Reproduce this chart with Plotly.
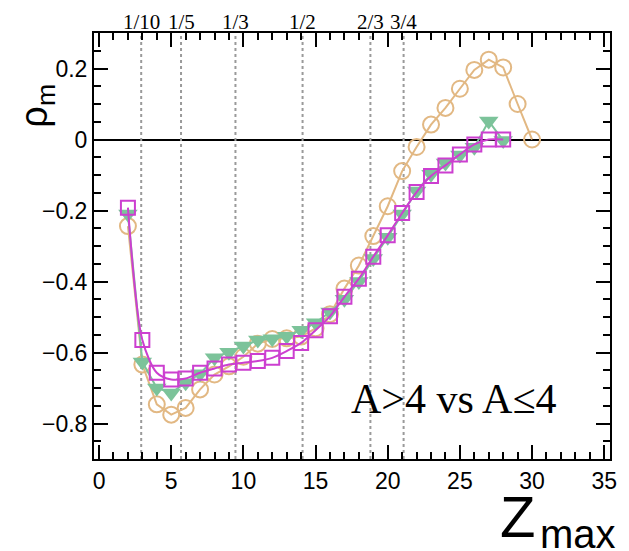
import plotly.graph_objects as go

# ---- data ----
z_circ = list(range(2, 31))
rho_circ = [-0.244, -0.634, -0.746, -0.775, -0.756, -0.704, -0.662, -0.639, -0.612, -0.575,
            -0.562, -0.560, -0.555, -0.532, -0.492, -0.420, -0.355, -0.272, -0.188, -0.089,
            -0.021, 0.042, 0.089, 0.143, 0.196, 0.225, 0.203, 0.100, 0.0]

z_tri = list(range(2, 29))
rho_tri = [-0.210, -0.627, -0.700, -0.714, -0.685, -0.660, -0.615, -0.599, -0.582, -0.565,
           -0.561, -0.554, -0.537, -0.516, -0.486, -0.450, -0.400, -0.335, -0.275, -0.210,
           -0.145, -0.098, -0.066, -0.044, -0.022, 0.052, -0.003]

z_sq = list(range(2, 29))
rho_sq = [-0.192, -0.565, -0.657, -0.676, -0.673, -0.657, -0.645, -0.634, -0.629, -0.624,
          -0.615, -0.596, -0.573, -0.537, -0.498, -0.443, -0.392, -0.330, -0.270, -0.207,
          -0.148, -0.103, -0.073, -0.042, -0.014, 0.0, 0.0]

frac_labels = ["1/10", "1/5", "1/3", "1/2", "2/3", "3/4"]
frac_pos = [2.92, 5.68, 9.45, 14.1, 18.8, 21.1]

x_range = [-0.35, 35.4]
y_range = [-0.9, 0.3]

C_TAN = "#E2B883"
C_GREEN = "#7CC39A"
C_MAG = "#CC3FD0"

fig = go.Figure()

# dotted reference lines
for p in frac_pos:
    fig.add_trace(go.Scatter(x=[p, p], y=y_range, mode="lines",
                             line=dict(color="#9a9a9a", width=2, dash="dot"),
                             showlegend=False, hoverinfo="skip"))

fig.add_trace(go.Scatter(x=z_circ, y=rho_circ, mode="lines+markers",
                         line=dict(color=C_TAN, width=2),
                         marker=dict(symbol="circle-open", size=16, color=C_TAN,
                                     line=dict(width=2)),
                         showlegend=False))
fig.add_trace(go.Scatter(x=z_tri, y=rho_tri, mode="lines+markers",
                         line=dict(color=C_GREEN, width=2),
                         marker=dict(symbol="triangle-down", size=17, color=C_GREEN),
                         showlegend=False))
fig.add_trace(go.Scatter(x=z_sq, y=rho_sq, mode="lines+markers",
                         line=dict(color=C_MAG, width=2, shape="spline", smoothing=0.8),
                         marker=dict(symbol="square-open", size=14, color=C_MAG,
                                     line=dict(width=2)),
                         showlegend=False))

annotations = []
for lab, p in zip(frac_labels, frac_pos):
    annotations.append(dict(x=p, xref="x", y=1.026, yref="paper", text=lab,
                            showarrow=False, xanchor="center", yanchor="middle",
                            font=dict(family="Liberation Serif", size=21, color="black")))

annotations.append(dict(x=0.495, xref="paper", y=0.14, yref="paper",
                        text="A>4 vs A≤4", showarrow=False,
                        xanchor="left", yanchor="middle",
                        font=dict(family="Liberation Serif", size=42, color="black")))

annotations.append(dict(x=-0.11, xref="paper", y=0.83, yref="paper",
                        text="ρ<sub>m</sub>", showarrow=False, textangle=-90,
                        xanchor="center", yanchor="middle",
                        font=dict(family="Liberation Sans", size=38, color="black")))

# x-axis title: Z with subscript "max"
annotations.append(dict(x=0.783, xref="paper", y=-0.134, yref="paper",
                        text="Z", showarrow=False,
                        xanchor="left", yanchor="middle",
                        font=dict(family="Liberation Sans", size=58, color="black")))
annotations.append(dict(x=0.938, xref="paper", y=-0.176, yref="paper",
                        text="max", showarrow=False,
                        xanchor="center", yanchor="middle",
                        font=dict(family="Liberation Sans", size=40, color="black")))

axis_common = dict(showline=True, linecolor="black", linewidth=2, mirror="allticks",
                   ticks="inside", tickcolor="black", tickwidth=2, ticklen=14,
                   showgrid=False,
                   tickfont=dict(family="Liberation Sans", size=23, color="black"))

fig.update_layout(
    width=629, height=551,
    margin=dict(l=94, r=15, t=33, b=92),
    paper_bgcolor="white", plot_bgcolor="white",
    xaxis=dict(range=x_range, dtick=5, tick0=0,
               minor=dict(ticks="inside", ticklen=7, tickwidth=2, tickcolor="black", dtick=1, showgrid=False),
               zeroline=False, **axis_common),
    yaxis=dict(range=y_range, dtick=0.2, tick0=0, tickformat="~g",
               minor=dict(ticks="inside", ticklen=7, tickwidth=2, tickcolor="black", dtick=0.05, showgrid=False),
               zeroline=True, zerolinecolor="black", zerolinewidth=2, **axis_common),
    annotations=annotations,
)

fig.write_html("out.html", config={"displayModeBar": False},
               post_script="document.body.style.margin='0';document.body.style.overflow='hidden';")
